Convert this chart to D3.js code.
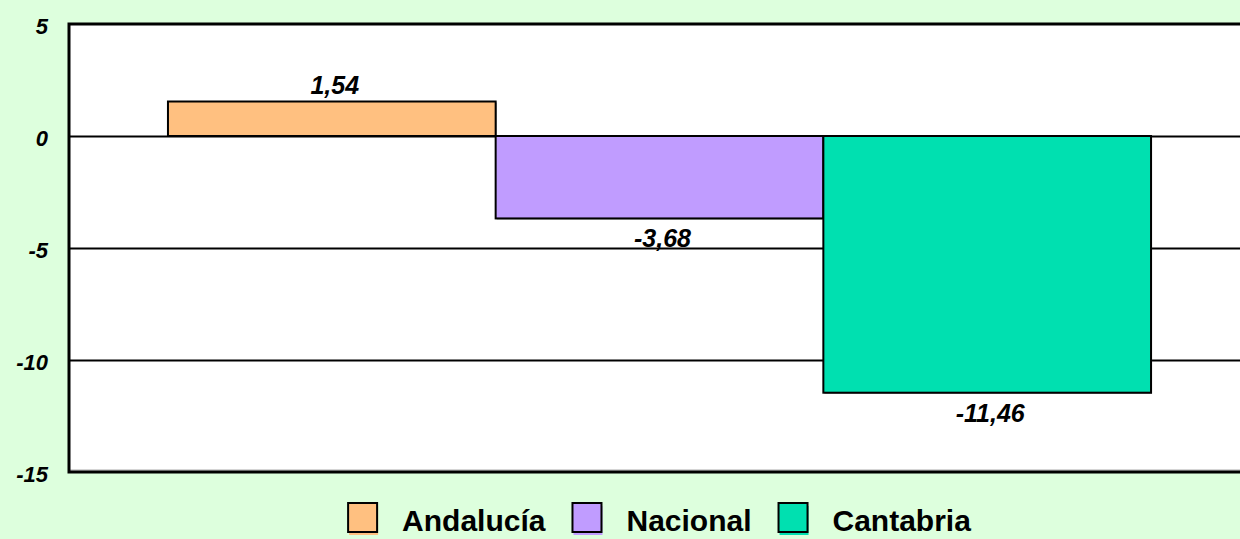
<!DOCTYPE html>
<html>
<head>
    <meta charset="utf-8" />
    <title>Andalucía / Nacional / Cantabria</title>
    <script src="https://d3js.org/d3.v7.min.js" charset="utf-8"></script>
    <style>
        html, body {
            margin: 0;
            padding: 0;
            background: #ddffdd;
        }
        body {
            font-family: Arial, "Liberation Sans", sans-serif;
        }
        .tick text {
            font-size: 22px;
            font-weight: bold;
            font-style: italic;
            fill: #000;
        }
        .grid line {
            stroke: #000;
            stroke-width: 2px;
        }
        .label {
            font-size: 25px;
            font-weight: bold;
            font-style: italic;
        }
        .legend text {
            font-size: 30px;
            font-weight: bold;
        }
    </style>
</head>
<body>
<div id="graphic"></div>
<script>
    // series (one bar each)
    var series = ["Andalucía", "Nacional", "Cantabria"];
    var values = [1.54, -3.68, -11.46];
    var colors = ["#ffc080", "#c09cff", "#00e0b0"];
    var yTicks = [5, 0, -5, -10, -15];

    var data = series.map(function (s, i) {
        return {name: s, value: values[i], color: colors[i]};
    });

    var W = 1240, H = 539;
    // plot box (right edge runs past the window, as in the original)
    var plot = {left: 69, top: 24, right: 1250, bottom: 472};

    var es = d3.formatLocale({decimal: ",", thousands: ".", grouping: [3], currency: ["", "€"], minus: "-"});
    var fmt = es.format(".2f");

    var svg = d3.select("#graphic").append("svg")
        .attr("width", W)
        .attr("height", H)
        .style("display", "block");

    svg.append("rect")
        .attr("width", W).attr("height", H)
        .attr("fill", "#ddffdd");

    var y = d3.scaleLinear()
        .domain([-15, 5])
        .range([plot.bottom, plot.top]);

    var x = d3.scaleBand()
        .domain(series)
        .range([plot.left, plot.right])
        .paddingInner(0)
        .paddingOuter(0.302);

    // plot background
    svg.append("rect")
        .attr("x", plot.left)
        .attr("y", plot.top)
        .attr("width", plot.right - plot.left)
        .attr("height", plot.bottom - plot.top)
        .attr("fill", "#fff");

    // gridlines
    svg.append("g")
        .attr("class", "grid")
        .attr("transform", "translate(" + plot.left + ",0)")
        .call(d3.axisLeft(y).tickValues([0, -5, -10]).tickSize(-(plot.right - plot.left)).tickFormat(""))
        .call(function (g) { g.select(".domain").remove(); });

    // bars
    var bars = svg.selectAll(".bar")
        .data(data)
        .enter()
        .append("g")
        .attr("class", "bar");

    bars.append("rect")
        .attr("x", function (d) { return x(d.name) + 1; })
        .attr("y", function (d) { return y(Math.max(0, d.value)) + 1; })
        .attr("width", x.bandwidth())
        .attr("height", function (d) { return Math.abs(y(d.value) - y(0)); })
        .attr("fill", "#888");

    bars.append("rect")
        .attr("x", function (d) { return x(d.name); })
        .attr("y", function (d) { return y(Math.max(0, d.value)); })
        .attr("width", x.bandwidth())
        .attr("height", function (d) { return Math.abs(y(d.value) - y(0)); })
        .attr("fill", function (d) { return d.color; })
        .attr("stroke", "#000")
        .attr("stroke-width", 2);

    bars.append("text")
        .attr("class", "label")
        .attr("text-anchor", "middle")
        .attr("x", function (d) { return x(d.name) + x.bandwidth() / 2 + 3; })
        .attr("y", function (d) {
            return d.value >= 0 ? y(d.value) - 8 : y(d.value) + 29;
        })
        .text(function (d) { return fmt(d.value); });

    // frame
    svg.append("line")
        .attr("x1", plot.left).attr("x2", plot.right)
        .attr("y1", plot.bottom - 2).attr("y2", plot.bottom - 2)
        .attr("stroke", "#aaa").attr("stroke-width", 1);
    svg.append("path")
        .attr("d", "M" + plot.right + "," + plot.top + "H" + plot.left + "V" + plot.bottom + "H" + plot.right)
        .attr("fill", "none")
        .attr("stroke", "#000")
        .attr("stroke-width", 3);

    // y axis labels
    svg.append("g")
        .attr("class", "y axis")
        .attr("transform", "translate(48,0)")
        .call(d3.axisLeft(y).tickValues(yTicks).tickSize(0).tickPadding(0).tickFormat(function (d) { return String(d); }))
        .call(function (g) {
            g.select(".domain").remove();
            g.selectAll("text").attr("dy", "0.45em").attr("font-family", null).attr("font-size", null);
        });

    // legend
    var legend = svg.append("g").attr("class", "legend");
    var sq = 29, gapText = 25, gapItem = 27;
    var items = legend.selectAll("g")
        .data(data)
        .enter()
        .append("g");

    items.append("rect")
        .attr("class", "shadow")
        .attr("x", 1).attr("y", 3)
        .attr("width", sq).attr("height", sq)
        .attr("fill", function (d) { return d.color; });
    items.append("rect")
        .attr("width", sq).attr("height", sq)
        .attr("fill", function (d) { return d.color; })
        .attr("stroke", "#000")
        .attr("stroke-width", 2);
    items.append("text")
        .attr("x", sq + gapText)
        .attr("y", 28)
        .text(function (d) { return d.name; });

    var offs = [], cur = 0;
    items.each(function () {
        offs.push(cur);
        var tw = d3.select(this).select("text").node().getComputedTextLength();
        cur += sq + gapText + tw + gapItem;
    });
    var total = cur - gapItem;
    var start = (plot.left + plot.right) / 2 - total / 2;
    items.attr("transform", function (d, i) {
        return "translate(" + (start + offs[i]) + ",503)";
    });
</script>
</body>
</html>
